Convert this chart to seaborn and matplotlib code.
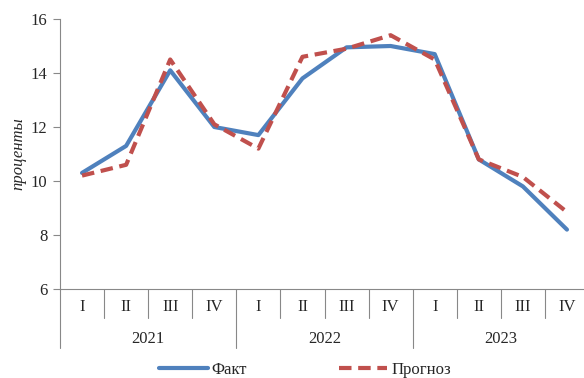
import pandas as pd
import matplotlib
matplotlib.use("Agg")
import matplotlib.pyplot as plt
import matplotlib.transforms as mtransforms
from matplotlib.lines import Line2D
import seaborn as sns

# --- data ---
years = ["2021", "2022", "2023"]
quarters = ["I", "II", "III", "IV"]
fact = [10.3, 11.3, 14.1, 12.0, 11.7, 13.8, 14.95, 15.0, 14.7, 10.8, 9.8, 8.2]
forecast = [10.2, 10.6, 14.5, 12.1, 11.2, 14.6, 14.9, 15.4, 14.5, 10.8, 10.15, 8.85]

n = len(fact)
pos = [i + 0.5 for i in range(n)]
df = pd.DataFrame({
    "pos": pos * 2,
    "value": fact + forecast,
    "series": ["Факт"] * n + ["Прогноз"] * n,
})

sns.set_style("white")
plt.rcParams["font.family"] = ["Liberation Serif", "DejaVu Serif"]
FS = 12

fig = plt.figure(figsize=(5.84, 3.78), dpi=100)
ax = fig.add_axes([60 / 584, 1 - 289 / 378, 529 / 584, 270 / 378])

colors = {"Факт": "#4F81BD", "Прогноз": "#C0504D"}
sns.lineplot(data=df, x="pos", y="value", hue="series", style="series",
             palette=colors, dashes={"Факт": "", "Прогноз": (3, 1.6)},
             linewidth=3, ax=ax, legend=False, clip_on=False)

ax.set_xlim(0, n)
ax.set_ylim(6, 16)
ax.set_yticks([6, 8, 10, 12, 14, 16])
ax.set_xticks([])
ax.set_xlabel("")
ax.set_ylabel("проценты", fontsize=FS, style="italic", labelpad=3)
ax.tick_params(axis="y", labelsize=FS, length=5, width=0.8, color="#888888",
               left=True, pad=4)
for s in ["top", "right"]:
    ax.spines[s].set_visible(False)
for s in ["left", "bottom"]:
    ax.spines[s].set_color("#888888")
    ax.spines[s].set_linewidth(0.8)

# category axis: quarters and years
trans = mtransforms.blended_transform_factory(ax.transData, ax.transAxes)
px = 1 / 270  # one pixel in axes fraction (vertical)
for i in range(n):
    ax.text(i + 0.5, -18 * px, quarters[i % 4], transform=trans,
            ha="center", va="center", fontsize=FS)
for i in range(1, n + 1):
    y_end = -59 * px if i % 4 == 0 else -29 * px
    ax.plot([i, i], [0, y_end], transform=trans, color="#888888",
            lw=0.8, clip_on=False)
ax.plot([0, 0], [0, -59 * px], transform=trans, color="#888888",
        lw=0.8, clip_on=False)
for k, yr in enumerate(years):
    ax.text(4 * k + 2, -50 * px, yr, transform=trans,
            ha="center", va="center", fontsize=FS)

handles = [Line2D([], [], color=colors["Факт"], lw=3),
           Line2D([], [], color=colors["Прогноз"], lw=3, dashes=(3, 1.6))]
fig.legend(handles, ["Факт", "Прогноз"], loc="center",
           bbox_to_anchor=(305 / 584, 1 - 370 / 378), ncol=2, frameon=False,
           fontsize=FS, handlelength=2.9, handletextpad=0.25, columnspacing=5.5)

fig.savefig("out.png", dpi=100)
